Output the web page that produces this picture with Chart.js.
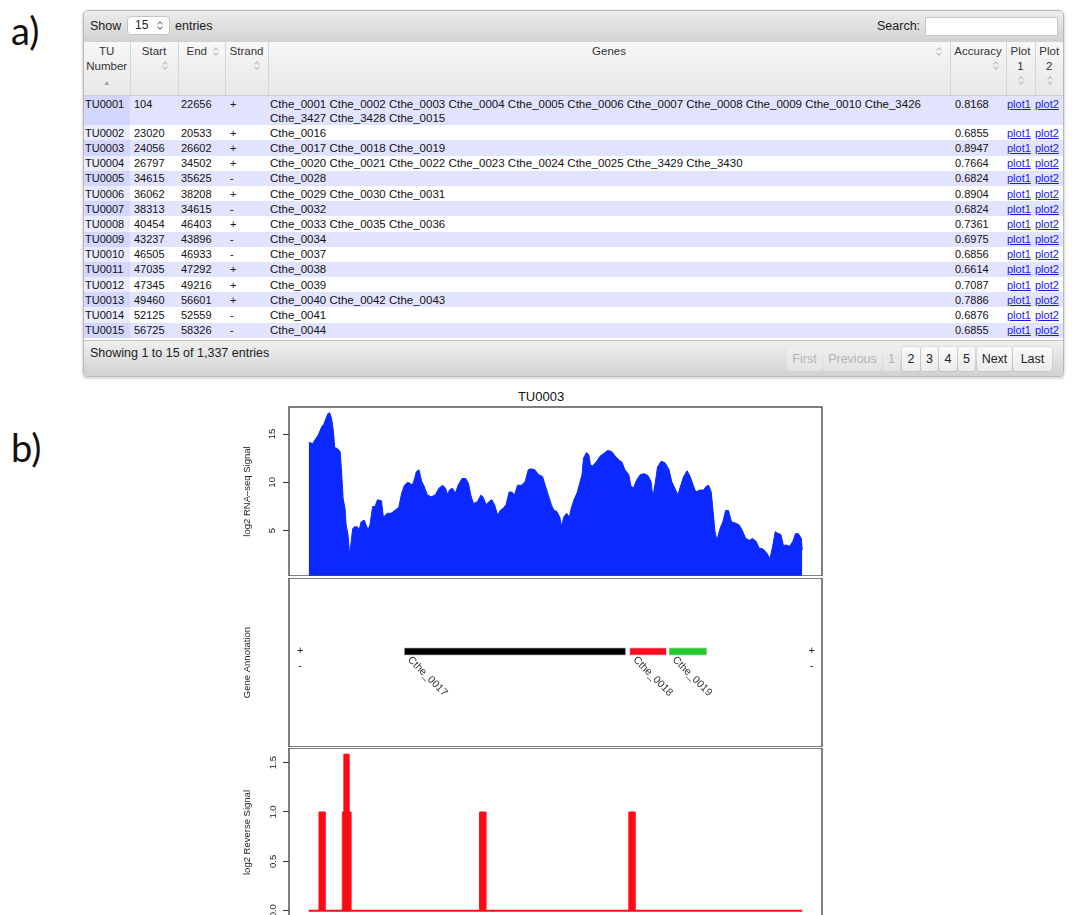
<!DOCTYPE html>
<html><head><meta charset="utf-8">
<script src="https://cdn.jsdelivr.net/npm/chart.js@4.4.0/dist/chart.umd.min.js"></script>
<style>
html,body{margin:0;padding:0;background:#fff;width:1072px;height:915px;overflow:hidden;}
body{position:relative;font-family:"Liberation Sans",Arial,Helvetica,sans-serif;color:#222;}
.lbl{position:absolute;font-family:Lato,"Open Sans",sans-serif;font-size:38px;color:#111;line-height:1;}
#wrap{position:absolute;left:83px;top:10px;width:979px;height:365px;border:1px solid #b8b8b8;border-radius:5px;box-shadow:0 1px 3px rgba(0,0,0,0.3);overflow:hidden;background:#fff;}
#toolbar{position:absolute;left:0;top:0;width:979px;height:31px;background:linear-gradient(#ececec,#d2d2d2);font-size:12.5px;color:#222;}
#toolbar .t{position:absolute;top:8px;line-height:14px;}
.sel{position:absolute;left:43px;top:5px;width:41px;height:17px;background:#fff;border:1px solid #c4c4c4;border-radius:4px;font-size:12px;line-height:17px;}
.sel span.v{position:absolute;left:7px;top:0;}
.chev{display:inline-block;position:absolute;width:7px;height:11px;}
.chev:before,.chev:after{content:"";position:absolute;left:1.7px;width:3px;height:3px;border-left:1px solid #777;border-top:1px solid #777;}
.chev:before{top:2px;transform:rotate(45deg);}
.chev:after{bottom:2px;transform:rotate(-135deg);}
.sort:before,.sort:after{border-color:#bcbcbc;}
.inp{position:absolute;left:841px;top:6px;width:131px;height:17px;background:#fff;border:1px solid #c8c8c8;}
table{position:absolute;left:0;top:31px;border-collapse:collapse;table-layout:fixed;width:979px;}
th{font-weight:normal;font-size:11.5px;color:#333;vertical-align:top;padding:2px 0 0 0;line-height:15px;height:51px;border-right:1px solid #d6d6d6;border-bottom:1px solid #cfcfcf;background:linear-gradient(#f8f8f8,#efefef 45%,#e9e9e9);text-align:center;position:relative;}
th:last-child{border-right:none;}
th .chev{position:absolute;}
.asc{color:#9a9a9a;font-size:7px;line-height:15px;}
td{font-size:11px;line-height:14px;padding:0.6px 0 0.6px 0;vertical-align:top;color:#111;}
td.g{font-size:11.5px;padding-left:2px;}
tr.odd td{background:#e2e4ff;}
tr.odd td.c1{background:#d3d6ff;}
tr.even td{background:#fff;}
tr.even td.c1{background:#eaebff;}
td a{color:#1a1aee;text-decoration:underline;}
#footer{position:absolute;left:0;top:329px;width:979px;height:36px;background:linear-gradient(#f0f0f0,#d0d0d0);border-top:1px solid #c4c4c4;font-size:12.5px;color:#222;}
#footer .info{position:absolute;left:6px;top:5px;line-height:14px;}
.pg{position:absolute;top:6px;height:24px;line-height:24px;font-size:12.5px;text-align:center;border-radius:3px;}
.pg.dis{color:#b4b4b4;background:rgba(240,240,240,0.55);}
.pg.on{color:#222;background:linear-gradient(#fafafa,#ececec);box-shadow:0 0 0 1px rgba(0,0,0,0.06);}
#under{position:absolute;left:84px;top:377px;width:980px;height:2px;background:#e4e4e4;}
.ttl{position:absolute;left:441px;width:200px;top:389px;text-align:center;font-size:13px;color:#111;}
canvas{position:absolute;}
</style>
</head><body>
<div class="lbl" style="left:11px;top:11px;">a)</div>
<div class="lbl" style="left:11px;top:428px;">b)</div>

<div id="wrap">
  <div id="toolbar">
    <span class="t" style="left:6px;">Show</span>
    <div class="sel"><span class="v">15</span><i class="chev" style="left:28px;top:3px;"></i></div>
    <span class="t" style="left:91px;">entries</span>
    <span class="t" style="left:793px;">Search:</span>
    <div class="inp"></div>
  </div>
  <table id="tbl">
    <colgroup>
      <col style="width:46px"><col style="width:48px"><col style="width:47px"><col style="width:43px">
      <col style="width:682px"><col style="width:56px"><col style="width:29px"><col style="width:28px">
    </colgroup>
    <thead><tr>
      <th>TU<br>Number<br><span class="asc">&#9650;</span></th>
      <th>Start<i class="chev sort" style="left:31px;top:18px;"></i></th>
      <th style="text-align:left;padding-left:8px;">End<i class="chev sort" style="left:34px;top:4px;"></i></th>
      <th>Strand<i class="chev sort" style="left:28px;top:18px;"></i></th>
      <th>Genes<i class="chev sort" style="left:667px;top:4px;"></i></th>
      <th>Accuracy<i class="chev sort" style="left:42px;top:18px;"></i></th>
      <th>Plot<br>1<i class="chev sort" style="left:11px;top:33px;"></i></th>
      <th>Plot<br>2<i class="chev sort" style="left:11px;top:33px;"></i></th>
    </tr></thead>
    <tbody id="tb"></tbody>
  </table>
  <div id="footer">
    <span class="info">Showing 1 to 15 of 1,337 entries</span>
    <div id="pager"></div>
  </div>
</div>
<div id="under"></div>

<div class="ttl">TU0003</div>
<canvas id="c1" width="592" height="176" style="left:238px;top:400px;"></canvas>
<canvas id="c2" width="592" height="169" style="left:238px;top:578px;"></canvas>
<canvas id="c3" width="592" height="169" style="left:238px;top:748px;"></canvas>

<script>
// ---------- table data ----------
const tuIds = ['TU0001','TU0002','TU0003','TU0004','TU0005','TU0006','TU0007','TU0008','TU0009','TU0010','TU0011','TU0012','TU0013','TU0014','TU0015'];
const tuStart = [104,23020,24056,26797,34615,36062,38313,40454,43237,46505,47035,47345,49460,52125,56725];
const tuEnd = [22656,20533,26602,34502,35625,38208,34615,46403,43896,46933,47292,49216,56601,52559,58326];
const tuStrand = ['+','+','+','+','-','+','-','+','-','-','+','+','+','-','-'];
const tuGenes = [
 'Cthe_0001 Cthe_0002 Cthe_0003 Cthe_0004 Cthe_0005 Cthe_0006 Cthe_0007 Cthe_0008 Cthe_0009 Cthe_0010 Cthe_3426 Cthe_3427 Cthe_3428 Cthe_0015',
 'Cthe_0016','Cthe_0017 Cthe_0018 Cthe_0019',
 'Cthe_0020 Cthe_0021 Cthe_0022 Cthe_0023 Cthe_0024 Cthe_0025 Cthe_3429 Cthe_3430',
 'Cthe_0028','Cthe_0029 Cthe_0030 Cthe_0031','Cthe_0032','Cthe_0033 Cthe_0035 Cthe_0036','Cthe_0034',
 'Cthe_0037','Cthe_0038','Cthe_0039','Cthe_0040 Cthe_0042 Cthe_0043','Cthe_0041','Cthe_0044'];
const tuAccuracy = ['0.8168','0.6855','0.8947','0.7664','0.6824','0.8904','0.6824','0.7361','0.6975','0.6856','0.6614','0.7087','0.7886','0.6876','0.6855'];
const pagerLabels = ['First','Previous','1','2','3','4','5','Next','Last'];
const pagerEnabled = [false,false,false,true,true,true,true,true,true];

// ---------- chart data ----------
const plotTitle = 'TU0003';
const dataRange = [23256, 27402];
const sigPos = [23256,23271,23287,23303,23335,23367,23383,23400,23416,23432,
 23448,23464,23474,23496,23519,23528,23545,23561,23570,23586,
 23599,23609,23625,23641,23664,23680,23696,23722,23738,23754,
 23770,23793,23812,23834,23867,23883,23915,23947,23979,24012,
 24037,24060,24086,24108,24124,24141,24160,24182,24205,24221,
 24237,24253,24285,24318,24350,24382,24405,24424,24437,24463,
 24488,24511,24543,24575,24598,24617,24640,24672,24704,24720,
 24746,24769,24794,24817,24843,24865,24888,24914,24939,24962,
 24985,25010,25043,25075,25100,25123,25155,25188,25220,25242,
 25268,25294,25316,25339,25365,25381,25397,25423,25445,25461,
 25484,25510,25532,25552,25564,25590,25610,25622,25639,25671,
 25703,25735,25767,25800,25832,25864,25887,25912,25945,25961,
 25983,26009,26041,26073,26106,26131,26147,26164,26186,26218,
 26251,26283,26305,26331,26357,26379,26405,26434,26460,26486,
 26508,26540,26573,26595,26615,26637,26653,26669,26685,26711,
 26734,26759,26782,26808,26840,26872,26895,26927,26959,26982,
 27014,27040,27072,27104,27130,27152,27175,27201,27223,27243,
 27272,27297,27323,27346,27368,27394,27402];
const sigVal = [14.1,14.1,14.0,14.3,14.9,15.8,16.0,16.6,17.1,17.2,
 16.6,15.2,13.6,13.5,13.2,11.8,8.3,7.3,5.6,4.6,
 2.5,3.5,5.2,5.4,5.4,5.1,5.9,6.1,5.6,5.1,
 5.6,7.5,7.5,8.2,8.1,6.4,6.8,6.8,7.1,7.4,
 8.9,9.7,10.0,9.9,9.7,10.2,11.1,11.3,10.1,9.7,
 9.2,8.7,8.5,8.7,9.4,9.7,9.4,8.7,9.2,9.4,
 8.9,9.7,10.4,10.4,9.9,8.7,7.8,8.0,8.7,8.5,
 7.7,8.0,8.2,7.7,6.6,7.1,7.3,7.7,9.0,9.0,
 8.7,9.7,9.7,10.1,11.3,11.4,11.3,10.8,10.6,9.7,
 8.7,7.7,7.1,7.0,6.4,5.4,6.4,6.8,6.4,7.3,
 8.2,8.9,9.9,10.8,12.5,13.1,12.8,11.8,11.7,12.1,
 12.7,13.0,13.3,13.2,12.7,12.3,12.1,11.3,10.8,9.7,
 9.4,10.2,10.8,10.9,10.7,10.1,8.5,9.7,11.6,12.2,
 12.0,11.3,10.1,9.4,8.7,9.6,10.6,11.2,10.6,9.7,
 9.0,9.2,9.2,9.6,9.7,9.0,7.0,4.9,4.0,5.2,
 5.9,7.1,7.1,5.9,5.8,5.6,5.1,4.2,4.0,4.2,
 3.9,3.2,3.1,2.7,2.1,3.3,4.9,4.7,4.6,3.5,
 3.5,3.4,3.9,4.7,4.7,4.2,3.0];
const sigTicks = [5, 10, 15];
const sigRange = [0.31, 17.8];

const geneNames = ['Cthe_0017','Cthe_0018','Cthe_0019'];
const geneStart = [24056, 25950, 26280];
const geneEnd = [25921, 26263, 26602];
const geneColors = ['#000000','#ff0b1f','#22c930'];
const geneLevel = 5.65;
const annRange = [0, 10];
const strandMarkX = [23184, 27481];
const strandMarks = ['+','-'];
const strandLevels = [5.68, 4.79];

const revStart = [23342, 23538, 23551, 24691, 25945];
const revEnd = [23392, 23609, 23593, 24743, 25996];
const revVal = [1, 1, 1.585, 1, 1];
const revTicks = [0, 0.5, 1, 1.5];
const revRange = [-0.0634, 1.648];

// ---------- build table ----------
const tb = document.getElementById('tb');
tuIds.forEach((id,i)=>{
  const tr = document.createElement('tr');
  tr.className = i%2===0 ? 'odd' : 'even';
  tr.innerHTML =
    '<td class="c1" style="padding-left:1px">'+id+'</td>'+
    '<td style="padding-left:4px">'+tuStart[i]+'</td>'+
    '<td style="padding-left:3px">'+tuEnd[i]+'</td>'+
    '<td style="padding-left:5px">'+tuStrand[i]+'</td>'+
    '<td class="g">'+tuGenes[i]+'</td>'+
    '<td style="padding-left:5px">'+tuAccuracy[i]+'</td>'+
    '<td style="padding-left:1px"><a>plot1</a></td>'+
    '<td style="padding-left:0px"><a>plot2</a></td>';
  tb.appendChild(tr);
});
const pager = document.getElementById('pager');
const pagerLeft = [703,739,799,818,837,855,874,893,929];
const pagerW = [35,59,17,18,17,18,17,35,39];
pagerLabels.forEach((t,i)=>{
  const d = document.createElement('div');
  d.className = 'pg ' + (pagerEnabled[i] ? 'on' : 'dis');
  d.style.left = pagerLeft[i]+'px';
  d.style.width = pagerW[i]+'px';
  d.textContent = t;
  pager.appendChild(d);
});

// ---------- charts ----------
const FONT = '"Liberation Sans", Arial, Helvetica, sans-serif';
Chart.defaults.font.family = FONT;
Chart.defaults.color = '#222';
const xMin = dataRange[0] - 0.04*(dataRange[1]-dataRange[0]);
const xMax = dataRange[1] + 0.04*(dataRange[1]-dataRange[0]);

const boxPlugin = {id:'box', afterDraw(chart){
  const {ctx, chartArea:a} = chart;
  ctx.save(); ctx.strokeStyle='#4a4a4a'; ctx.lineWidth=1.4;
  ctx.strokeRect(a.left, a.top, a.right-a.left, a.bottom-a.top);
  ctx.restore();
}};

function yAxis(range, ticks, title, pad, showTicks){
  return {
    type:'linear', min:range[0], max:range[1],
    afterFit(s){ s.width = 51; s.paddingTop = 0; s.paddingBottom = 0; },
    afterBuildTicks(s){ s.ticks = ticks.map(v=>({value:v})); },
    ticks:{display:showTicks, minRotation:90, maxRotation:90, crossAlign:'center', padding:pad,
      font:{size:9.5, family:FONT}, color:'#222',
      callback:(v)=> (ticks.some(t=>t%1!==0) ? Number(v).toFixed(1) : String(v))},
    grid:{display:showTicks, drawOnChartArea:false, drawTicks:true, tickLength:6, color:'#333', tickColor:'#333', tickWidth:1},
    border:{display:false},
    title:{display:true, text:title, font:{size:9.5, family:FONT}, color:'#222', padding:{top:4,bottom:0}}
  };
}
const xAxis = {type:'linear', min:xMin, max:xMax, display:false};
const common = {responsive:false, animation:false, events:[],
  plugins:{legend:{display:false}, tooltip:{enabled:false}}};

// Panel 1
new Chart(document.getElementById('c1'), {
  type:'line',
  data:{datasets:[{data: sigPos.map((p,i)=>({x:p, y:sigVal[i]})), borderColor:'#0a28ff', backgroundColor:'#0a28ff',
    borderWidth:1, pointRadius:0, tension:0, fill:'start'}]},
  options:Object.assign({}, common, {layout:{padding:{top:7,right:8,bottom:0,left:0}},
    scales:{x:xAxis, y:yAxis(sigRange, sigTicks, 'log2 RNA\u2013seq Signal', 5.5, true)}}),
  plugins:[boxPlugin]
});

// Panel 2
const genePlugin = {id:'genes', afterDatasetsDraw(chart){
  const {ctx, scales:{x, y}} = chart;
  ctx.save();
  ctx.fillStyle = '#333';
  ctx.font = '10.5px ' + FONT;
  ctx.textBaseline = 'top'; ctx.textAlign = 'left';
  geneNames.forEach((n,i)=>{
    const px = x.getPixelForValue(geneStart[i]);
    const py = y.getPixelForValue(geneLevel) + 3;
    ctx.save(); ctx.translate(px+9, py); ctx.rotate(Math.PI/4); ctx.fillText(n, 0, 0); ctx.restore();
  });
  ctx.font = '11px ' + FONT; ctx.textAlign='center'; ctx.textBaseline='middle'; ctx.fillStyle='#222';
  strandMarkX.forEach(mx=>{
    strandMarks.forEach((m,j)=>{
      ctx.fillText(m, x.getPixelForValue(mx), y.getPixelForValue(strandLevels[j]));
    });
  });
  ctx.restore();
}};
new Chart(document.getElementById('c2'), {
  type:'bar',
  data:{datasets:[{data: geneStart.map((s,i)=>({x:[s, geneEnd[i]], y:geneLevel})),
    backgroundColor:geneColors, borderColor:'#d8d8d8', borderWidth:1, borderSkipped:false, barThickness:8}]},
  options:Object.assign({}, common, {indexAxis:'y', layout:{padding:{top:0,right:8,bottom:0,left:0}},
    scales:{x:xAxis, y:yAxis(annRange, [], 'Gene Annotation', 5, false)}}),
  plugins:[boxPlugin, genePlugin]
});

// Panel 3
const revSets = [{data:[{x:dataRange[0], y:0},{x:dataRange[1], y:0}], borderColor:'#ff0a14', borderWidth:2, pointRadius:0, fill:false}];
revStart.forEach((s,i)=>{
  revSets.push({data:[{x:s,y:0},{x:s,y:revVal[i]},{x:revEnd[i],y:revVal[i]},{x:revEnd[i],y:0}],
    borderColor:'#ff0a14', backgroundColor:'#ff0a14', borderWidth:1, pointRadius:0, tension:0, fill:'origin'});
});
new Chart(document.getElementById('c3'), {
  type:'line',
  data:{datasets:revSets},
  options:Object.assign({}, common, {layout:{padding:{top:0,right:8,bottom:0,left:0}},
    scales:{x:xAxis, y:yAxis(revRange, revTicks, 'log2 Reverse Signal', 3, true)}}),
  plugins:[boxPlugin]
});
</script>
</body></html>
